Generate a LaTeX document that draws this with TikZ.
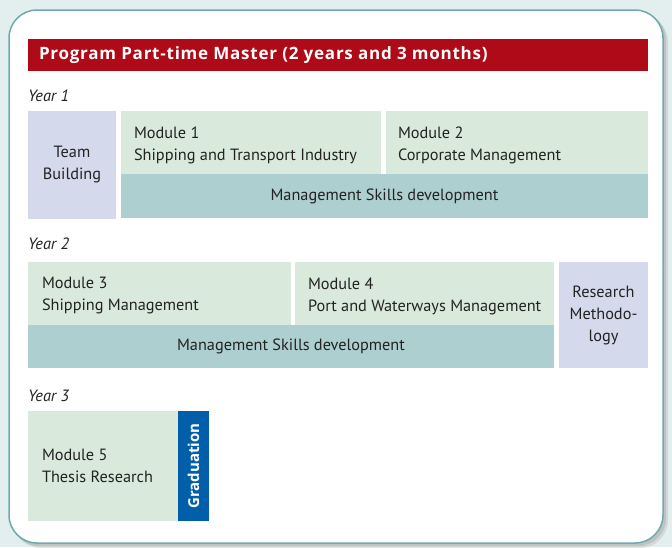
\documentclass[tikz,border=0pt]{standalone}
\usepackage{fontspec}
\setmainfont{PT Sans}
\newfontfamily\hdrfont[LetterSpace=4.5]{Open Sans}
\newfontfamily\gradfont{Open Sans}
\usetikzlibrary{positioning}
\definecolor{bgc}{HTML}{E3EFEF}
\definecolor{frame}{HTML}{6FAAAE}
\definecolor{hdr}{HTML}{AF0A18}
\definecolor{modg}{HTML}{D9EADC}
\definecolor{mgt}{HTML}{AECFD0}
\definecolor{lav}{HTML}{D4D9EC}
\definecolor{grad}{HTML}{005FA8}
\definecolor{txt}{HTML}{222222}
\begin{document}
\begin{tikzpicture}[x=1pt,y=-1pt,
  every node/.style={inner sep=0pt, outer sep=0pt, text=txt, font=\fontsize{16.3}{22}\selectfont},
  box/.style={anchor=north west, inner sep=0pt},
  mod/.style={box, fill=modg},
  modtext/.style={anchor=west, align=left},
  mgm/.style={box, fill=mgt, align=center},
  lavbox/.style={box, fill=lav, align=center},
  yearlbl/.style={anchor=west, font=\fontsize{16.3}{22}\selectfont\itshape}
]
\useasboundingbox (0,0) rectangle (672,547);
\fill[bgc] (0,0) rectangle (672,547);
% shadow
\fill[black!30, opacity=0.35, rounded corners=28pt] (13,14) rectangle (668,548);
\fill[black!40, opacity=0.35, rounded corners=28pt] (11,12) rectangle (666,546);
\draw[frame, line width=1.5pt, fill=white, rounded corners=28pt] (9,10) rectangle (663,543);

% header
\node[box, fill=hdr, minimum width=620pt, minimum height=32pt] (hdr) at (28,39) {};
\node[anchor=west, text=white, font=\hdrfont\fontsize{17}{20}\selectfont\bfseries] (hdrt) at ([xshift=11pt]hdr.west) {Program Part-time Master (2 years and 3 months)};

% Year 1
\node[yearlbl] (y1) at (28,96) {Year 1};
\node[lavbox, minimum width=88pt, minimum height=108pt] (team) at (28,111) {Team\\Building};
\node[mod, minimum width=260pt, minimum height=66pt] (m1) at (121,111) {};
\node[modtext] (m1t) at ([xshift=13pt,yshift=-1pt]m1.west) {Module 1\\Shipping and Transport Industry};
\node[mod, minimum width=262pt, minimum height=66pt] (m2) at (386,111) {};
\node[modtext] (m2t) at ([xshift=12pt,yshift=-1pt]m2.west) {Module 2\\Corporate Management};
\node[mgm, minimum width=527pt, minimum height=44pt] (ms1) at (121,174) {Management Skills development};

% Year 2
\node[yearlbl] (y2) at (28,244) {Year 2};
\node[mod, minimum width=263pt, minimum height=66pt] (m3) at (28,262) {};
\node[modtext] (m3t) at ([xshift=14pt,yshift=-1pt]m3.west) {Module 3\\Shipping Management};
\node[mod, minimum width=259pt, minimum height=66pt] (m4) at (295,262) {};
\node[modtext] (m4t) at ([xshift=13pt,yshift=-1pt]m4.west) {Module 4\\Port and Waterways Management};
\node[mgm, minimum width=526pt, minimum height=43pt] (ms2) at (28,325) {Management Skills development};
\node[lavbox, minimum width=89pt, minimum height=106pt] (rm) at (559,262) {Research\\Methodo-\\logy};

% Year 3
\node[yearlbl] (y3) at (28,396) {Year 3};
\node[mod, minimum width=150pt, minimum height=110pt] (m5) at (28,411) {};
\node[modtext] (m5t) at ([xshift=14pt]m5.west) {Module 5\\Thesis Research};
\node[box, fill=grad, minimum width=31pt, minimum height=110pt] (gr) at (178,411) {};
\node[rotate=90, text=white, font=\gradfont\fontsize{15}{18}\selectfont\bfseries] (grt) at (gr.center) {Graduation};
\end{tikzpicture}
\end{document}
